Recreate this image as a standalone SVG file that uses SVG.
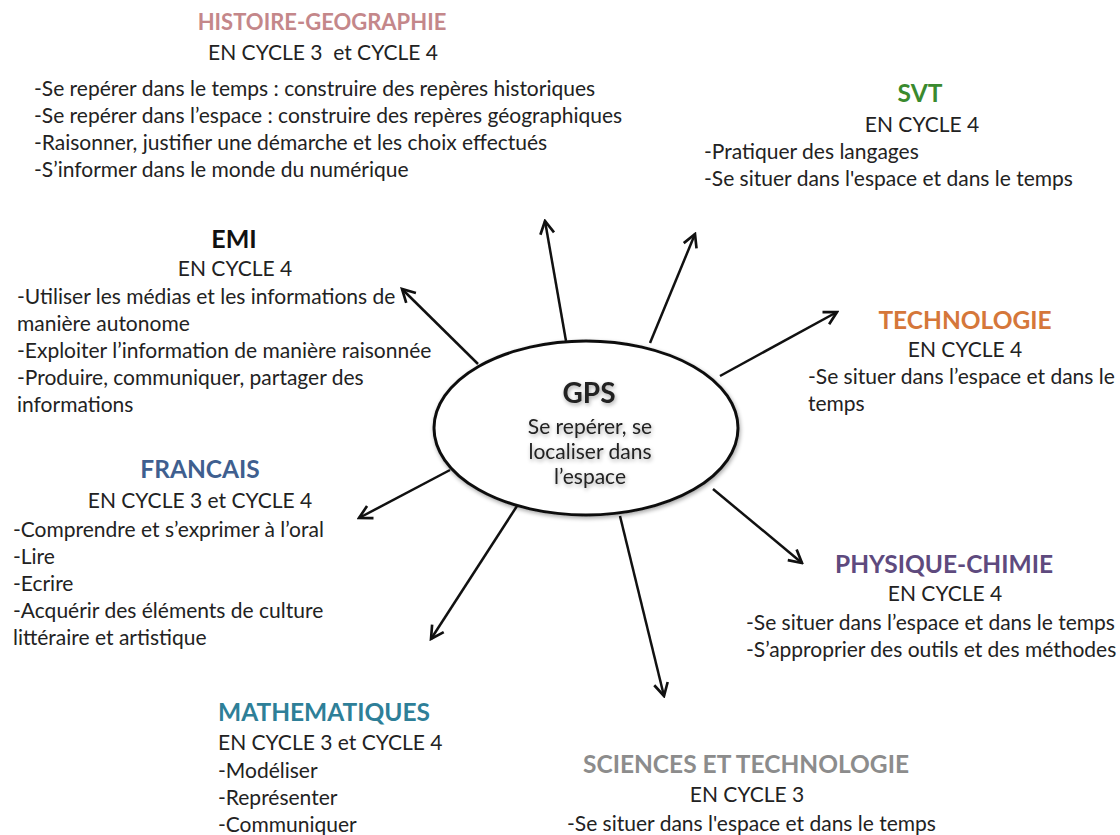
<svg xmlns="http://www.w3.org/2000/svg" width="1120" height="835" viewBox="0 0 1120 835">
<style>
text{font-family:Lato,"Open Sans","Liberation Sans",sans-serif;fill:#222;}
.t{font-weight:bold;font-size:24.5px;text-anchor:middle;}
.c{font-size:21px;text-anchor:middle;white-space:pre;}
.b{font-size:21px;}
.g{font-size:21px;text-anchor:middle;}
.arr{stroke:#111;stroke-width:2.5;fill:none;marker-end:url(#ah);}
</style>
<defs>
<marker id="ah" viewBox="0 0 16 16" refX="14" refY="8" markerWidth="17" markerHeight="17" markerUnits="userSpaceOnUse" orient="auto">
<path d="M2,1.5 L14,8 L2,14.5" fill="none" stroke="#111" stroke-width="2.5"/>
</marker>
<filter id="sh" x="-20%" y="-20%" width="140%" height="140%">
<feGaussianBlur in="SourceAlpha" stdDeviation="2"/>
<feOffset dx="1" dy="2" result="o"/>
<feComponentTransfer><feFuncA type="linear" slope="0.35"/></feComponentTransfer>
<feMerge><feMergeNode/><feMergeNode in="SourceGraphic"/></feMerge>
</filter>
</defs>
<rect width="1120" height="835" fill="#fff"/>
<g id="connectors">
<line class="arr" x1="566" y1="341" x2="545" y2="221"/>
<line class="arr" x1="650" y1="343" x2="695" y2="234"/>
<line class="arr" x1="720" y1="376" x2="837" y2="312"/>
<line class="arr" x1="713" y1="489" x2="802" y2="563"/>
<line class="arr" x1="620" y1="516" x2="664" y2="696"/>
<line class="arr" x1="517" y1="506" x2="431" y2="639"/>
<line class="arr" x1="450" y1="470" x2="359" y2="518"/>
<line class="arr" x1="478" y1="364" x2="402" y2="289"/>
</g>
<g id="gps">
<ellipse cx="586" cy="428" rx="152" ry="87" fill="#fff" stroke="#111" stroke-width="3" filter="url(#sh)"/>
<g filter="url(#sh)">
<text x="589" y="403" style="font-weight:bold;font-size:28px;text-anchor:middle">GPS</text>
<text class="g" x="590" y="434">Se repérer, se</text>
<text class="g" x="590" y="459">localiser dans</text>
<text class="g" x="590" y="484">l’espace</text>
</g>
</g>
<g id="histoire-geographie">
<text class="t" x="322" y="30" style="fill:#c4878a;font-size:22px">HISTOIRE-GEOGRAPHIE</text>
<text class="c" x="323" y="60">EN CYCLE 3  et CYCLE 4</text>
<text class="b" x="34" y="96">-Se repérer dans le temps : construire des repères historiques</text>
<text class="b" x="34" y="123">-Se repérer dans l’espace : construire des repères géographiques</text>
<text class="b" x="34" y="150">-Raisonner, justifier une démarche et les choix effectués</text>
<text class="b" x="34" y="177">-S’informer dans le monde du numérique</text>
</g>
<g id="svt">
<text class="t" x="920" y="102" style="fill:#3a8a2e">SVT</text>
<text class="c" x="922" y="132">EN CYCLE 4</text>
<text class="b" x="704" y="159">-Pratiquer des langages</text>
<text class="b" x="704" y="186">-Se situer dans l'espace et dans le temps</text>
</g>
<g id="emi">
<text class="t" x="234" y="248" style="fill:#111;font-size:25px">EMI</text>
<text class="c" x="235" y="276">EN CYCLE 4</text>
<text class="b" x="17" y="304">-Utiliser les médias et les informations de</text>
<text class="b" x="17" y="331">manière autonome</text>
<text class="b" x="17" y="358">-Exploiter l’information de manière raisonnée</text>
<text class="b" x="17" y="385">-Produire, communiquer, partager des</text>
<text class="b" x="17" y="412">informations</text>
</g>
<g id="technologie">
<text class="t" x="965" y="329" style="fill:#d5773a">TECHNOLOGIE</text>
<text class="c" x="965" y="357">EN CYCLE 4</text>
<text class="b" x="808" y="384">-Se situer dans l’espace et dans le</text>
<text class="b" x="808" y="411">temps</text>
</g>
<g id="physique-chimie">
<text class="t" x="944" y="573" style="fill:#5e4a7e">PHYSIQUE-CHIMIE</text>
<text class="c" x="945" y="601">EN CYCLE 4</text>
<text class="b" x="746" y="630">-Se situer dans l’espace et dans le temps</text>
<text class="b" x="746" y="657">-S’approprier des outils et des méthodes</text>
</g>
<g id="francais">
<text class="t" x="200" y="478" style="fill:#3f5f8f">FRANCAIS</text>
<text class="c" x="200" y="508">EN CYCLE 3 et CYCLE 4</text>
<text class="b" x="13" y="537">-Comprendre et s’exprimer à l’oral</text>
<text class="b" x="13" y="564">-Lire</text>
<text class="b" x="13" y="591">-Ecrire</text>
<text class="b" x="13" y="618">-Acquérir des éléments de culture</text>
<text class="b" x="13" y="645">littéraire et artistique</text>
</g>
<g id="mathematiques">
<text class="t" x="218" y="721" style="fill:#2e7f98;text-anchor:start">MATHEMATIQUES</text>
<text class="c" x="218" y="750" style="text-anchor:start">EN CYCLE 3 et CYCLE 4</text>
<text class="b" x="218" y="778">-Modéliser</text>
<text class="b" x="218" y="805">-Représenter</text>
<text class="b" x="218" y="832">-Communiquer</text>
</g>
<g id="sciences-technologie">
<text class="t" x="746" y="773" style="fill:#8c8c8c">SCIENCES ET TECHNOLOGIE</text>
<text class="c" x="747" y="802">EN CYCLE 3</text>
<text class="b" x="567" y="831">-Se situer dans l'espace et dans le temps</text>
</g>
</svg>
